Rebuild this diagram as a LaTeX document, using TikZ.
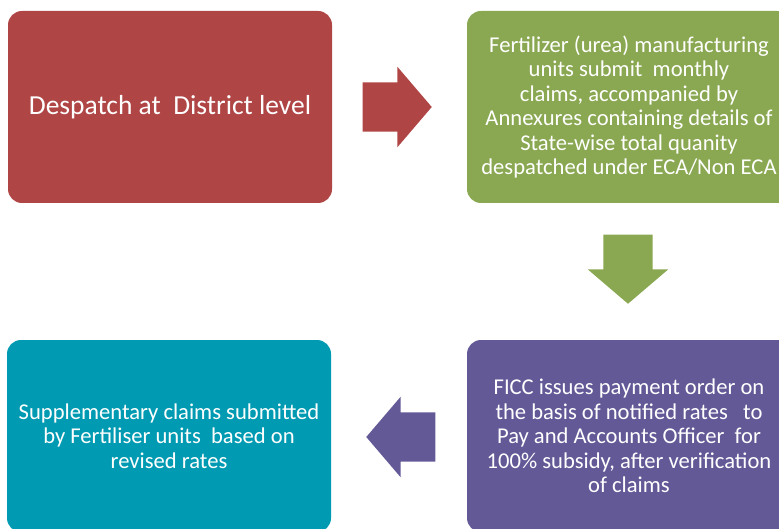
\documentclass[tikz,border=0pt]{standalone}
\usepackage{fontspec}
\setmainfont{Carlito}
\usetikzlibrary{shapes.arrows,positioning}

\definecolor{stepred}{RGB}{175,69,69}
\definecolor{stepgreen}{RGB}{138,168,82}
\definecolor{steppurple}{RGB}{100,89,151}
\definecolor{stepteal}{RGB}{0,155,178}

\begin{document}
\begin{tikzpicture}[x=1pt,y=-1pt,
  stepbox/.style={rounded corners=14pt, text=white, align=center, inner sep=0pt,
    minimum width=324pt, minimum height=192pt, font=\fontsize{22.6}{24.5}\selectfont},
  blockarrow/.style={single arrow, inner xsep=0pt, inner ysep=24.5pt, minimum height=69pt,
    single arrow head extend=15.5pt, single arrow tip angle=99}]
% Page frame
\clip (0,0) rectangle (779,529);

% Steps of the claim procedure
\node[stepbox, fill=stepred, font=\fontsize{27.5}{30}\selectfont] (despatch) at (170,107)
  {Despatch at \ District level};
\node[stepbox, fill=stepgreen] (claims) at (629,107)
  {Fertilizer (urea) manufacturing\\units submit \ monthly\\claims, accompanied by\\Annexures containing details of\\State-wise total quanity\\despatched under ECA/Non ECA};
\node[stepbox, fill=steppurple] (payment) at (629,436)
  {FICC issues payment order on\\the basis of notified rates \ \ to\\Pay and Accounts Officer \ for\\100\% subsidy, after verification\\of claims};
\node[stepbox, fill=stepteal] (supplementary) at (169,436)
  {Supplementary claims submitted\\by Fertiliser units \ based on\\revised rates};

% Block arrows between the steps
\node[blockarrow, fill=stepred, anchor=tip] (toclaims) at (432,107) {};
\node[blockarrow, fill=stepgreen, shape border rotate=270, inner xsep=24.5pt, inner ysep=0pt,
  anchor=tip] (topayment) at (628,304) {};
\node[blockarrow, fill=steppurple, shape border rotate=180, anchor=tip] (tosupp) at (366,437) {};

\end{tikzpicture}
\end{document}
